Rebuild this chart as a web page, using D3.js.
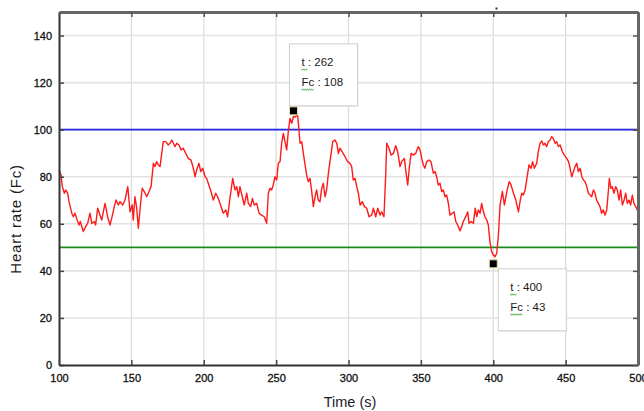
<!DOCTYPE html>
<html><head><meta charset="utf-8">
<script src="https://cdn.jsdelivr.net/npm/d3@7"></script>
<style>
html,body{margin:0;padding:0;background:#fff;}
svg{display:block;}
</style></head>
<body>
<svg id="chart" width="644" height="411"></svg>
<script>
const times = [100,101.4,102.3,103.7,104.6,106,106.9,108.8,109.9,111,112.2,113.8,114.7,116.8,118.4,119.8,121.4,122.6,124.4,125.3,126.7,128.3,129.5,131.8,133.6,135.2,136.4,138.2,139.4,141,142.1,144,145.6,147.5,149.1,150.6,151.3,152.5,153.7,154.8,156.6,157.5,158.9,160.6,162.2,163.6,165.2,166.3,167.5,168.6,169.8,172,173.7,175.5,176.7,177.9,179,180.1,181.3,182.9,184.3,185.9,187.5,189.3,191.2,192.8,194,195.1,196.7,197.9,199.3,200.9,202,203.1,205,206.6,208.3,209.6,211.2,213.5,215.2,216.5,218.1,220,221.6,222.8,223.9,225,226.6,228,229.7,230.8,232.4,233.6,234.9,236.6,238.2,240,241.8,243.5,244.6,245.8,246.9,248,249.2,250.4,251.5,252.7,253.8,255,256.1,257.3,258.4,259.6,260.8,261.9,263.5,264.7,265.8,266.5,267.7,268.8,270,271.1,272.2,273.4,274.6,275.7,276.9,278,279.1,280.3,281.5,282.6,283.8,284.9,286.1,288,289.1,290.7,291.9,293,294.1,295.7,297.6,299.4,301,302.2,303.3,304.5,305.7,306.8,308,309.6,311,312.6,314.2,316,317.2,318.8,320.2,321.8,322.9,324.5,325.7,326.4,328,329.4,331,332.6,334,335.6,336.7,338.6,339.5,340.9,342,343.2,344.8,346.4,348.2,349.4,350.6,351.7,352.8,354,355.6,357,358.6,359.8,360.9,362,363.2,364.4,365.5,366.7,367.8,369,370.1,371.7,372.9,374.1,375.4,377,378.2,379.3,380.5,382.4,383.3,384.7,386.3,387.5,388.6,389.7,390.9,392,393.2,394.3,395.5,396.6,397.8,398.9,400.1,401.2,402.4,403.5,404.7,406.3,407.7,409.4,411,412.3,414,415.6,417.4,418.5,419.7,420.8,422,423.1,424.7,426.1,427.2,428.4,430,431.1,432.3,433.5,434.6,435.7,436.9,438,439.2,440.3,441.5,442.7,443.8,445,446.2,447.8,449.1,450.8,452,453.1,454.2,455.4,456.5,457.7,458.8,460,461.2,462.3,463.4,464.6,465.7,466.9,468,469.2,470.3,471.4,472.6,473.7,474.9,476,477.2,478.4,479.5,480.2,481.3,482.2,483.4,484.6,485.7,486.9,488,489.2,490.4,491.5,492.6,493.8,494.9,496.1,497.2,498.4,499.5,500];
const heartRate = [83,80.7,75.8,73,74.4,73,69.4,64.5,63,64.5,62.3,59.5,61,56.7,58.8,60.2,64.5,60.2,61,59.5,66.6,63.7,61.6,68.7,63,59.5,62.3,67.3,70.1,68,69.4,68,70.1,75.8,65.1,68,61.6,71.5,66.6,58.1,70.1,75.1,73.7,71.5,73.7,75.8,85.7,84.3,86.4,85,84.3,94.9,94.9,93.5,94.2,95.6,94.2,92.8,94.2,93.5,91.4,92.1,90,87.8,87.1,83.6,80,82.9,85.7,82.2,83.6,80,79.3,77.2,73.7,70.1,73,71.5,68.7,64.5,65.9,63,70.8,79.3,74.4,75.8,71.5,75.8,71.5,68,73,68.7,67.3,70.8,68,68.7,64.5,63.7,63,60.2,73,75.1,74.4,76.5,80,78.6,85.7,86.4,94.2,98.4,94.9,91.4,99.1,104.8,102.7,105.5,105.5,106.9,99.9,94.2,94.9,89.9,85,80.7,77.9,79.3,73.7,67.3,71.5,74.4,70.1,69.4,75.1,77.2,71.5,74.4,81.5,89.9,94.9,95.6,94.2,89.9,92.1,90.6,88.5,86.4,85.7,84.3,78.6,79.3,75.8,73,68,69.4,67.3,66.6,63,63.7,66.6,63,66.6,63.7,65.1,63,80.7,94.2,92.1,89.2,89.9,93.2,90.6,84.3,86.4,87.8,82.9,76.5,83.6,89.9,89.2,89.9,92.8,91.4,87.8,85,83.6,86.4,87.1,86.4,81.5,82.2,80,76.5,77.2,73.7,74.4,71.5,72.2,68.7,63.7,64.5,65.1,61,59.5,57,58.8,61,62.3,65.1,60.2,61,60.2,66.6,63,65.9,64.5,68.7,65.1,63,61.6,59.5,52,48.2,46.7,46,47.5,54.5,68,73.7,68,73.7,77.9,76.5,73,70.1,65.1,69.4,73,72.2,74.4,78.6,85,83.6,86.4,83.6,85.7,90.6,94.2,95.2,93.5,94.2,92.8,94.9,95.6,97,96.3,94.2,94.9,92.8,93.5,90.6,89.2,87.8,86.4,83.6,80,82.2,84.3,85.7,82.2,83.6,80,78.6,77.9,75.8,73,72.2,71.5,74.4,73,70.1,68.7,67.3,64.5,65.9,63.7,65.9,73.7,79.3,75.1,75.8,73,75.8,74.4,70.1,74.4,68,70.1,73,68.7,70.1,68,72.2,68.7,67.3,65.9,64.5];
const xTicks = [100,150,200,250,300,350,400,450,500];
const yTicks = [0,20,40,60,80,100,120,140];
const upperLimit = [100];
const lowerLimit = [50];
const annotT = [262, 400];
const annotFc = [108, 43];

const svg = d3.select("#chart");
const W = 644, H = 411;
const m = {left:59, top:12, right:6, bottom:46};
const x = d3.scaleLinear().domain([100,500]).range([m.left, W - m.right]);
const y = d3.scaleLinear().domain([0,150]).range([H - m.bottom, m.top]);
const font = "'Liberation Sans', Arial, sans-serif";

// grid
const grid = svg.append("g");
grid.selectAll("line.vx").data(xTicks.slice(1,-1)).join("line")
  .attr("x1", d=>x(d)).attr("x2", d=>x(d)).attr("y1", y(0)).attr("y2", y(150))
  .attr("stroke", "#dcdcdc").attr("stroke-width", 1.2);
grid.selectAll("line.hy").data(yTicks.slice(1)).join("line")
  .attr("y1", d=>y(d)).attr("y2", d=>y(d)).attr("x1", x(100)).attr("x2", x(500))
  .attr("stroke", "#e2e2e2").attr("stroke-width", 1.6);

// threshold lines
svg.selectAll("line.up").data(upperLimit).join("line")
  .attr("x1", x(100)).attr("x2", x(500)).attr("y1", d=>y(d)).attr("y2", d=>y(d))
  .attr("stroke", "#2626e6").attr("stroke-width", 1.6);
svg.selectAll("line.lo").data(lowerLimit).join("line")
  .attr("x1", x(100)).attr("x2", x(500)).attr("y1", d=>y(d)).attr("y2", d=>y(d))
  .attr("stroke", "#1d8a1d").attr("stroke-width", 1.6);

// series
const pts = times.map((t,i)=>[t, heartRate[i]]);
svg.append("path").datum(pts)
  .attr("fill","none").attr("stroke","#ff1a1a").attr("stroke-width",1.4)
  .attr("stroke-linejoin","round")
  .attr("d", d3.line().x(d=>x(d[0])).y(d=>y(d[1])));

// axes
const axL = svg.append("g").attr("transform",`translate(${m.left},0)`)
  .call(d3.axisLeft(y).tickValues(yTicks).tickSizeInner(-5).tickSizeOuter(0).tickPadding(7));
const axB = svg.append("g").attr("transform",`translate(0,${H-m.bottom})`)
  .call(d3.axisBottom(x).tickValues(xTicks).tickSizeInner(-5).tickSizeOuter(0).tickPadding(7));
const axT = svg.append("g").attr("transform",`translate(0,${m.top})`)
  .call(d3.axisTop(x).tickValues(xTicks).tickSizeInner(-5).tickSizeOuter(0).tickFormat(""));
const axR = svg.append("g").attr("transform",`translate(${W-m.right},0)`)
  .call(d3.axisRight(y).tickValues(yTicks).tickSizeInner(-5).tickSizeOuter(0).tickFormat(""));
[axL,axB].forEach(a=>{
  a.select(".domain").attr("stroke","#333").attr("stroke-width",2);
  a.selectAll(".tick line").attr("stroke","#444").attr("stroke-width",1.5);
  a.selectAll("text").attr("font-family",font).attr("font-size",11).attr("fill","#111")
    .attr("stroke","#111").attr("stroke-width",0.3);
});
[axT,axR].forEach(a=>{
  a.select(".domain").attr("stroke","#666").attr("stroke-width",3);
  a.selectAll(".tick line").attr("stroke","#555").attr("stroke-width",1.5);
});
axB.selectAll("text").attr("dy","0.9em");

// titles
svg.append("text").attr("transform",`translate(21,219) rotate(-90)`)
  .attr("text-anchor","middle").attr("font-family",font).attr("font-size",15)
  .attr("letter-spacing",0.8)
  .attr("fill","#1a1a1a").text("Heart rate (Fc)");
svg.append("text").attr("x",350).attr("y",407).attr("text-anchor","middle")
  .attr("font-family",font).attr("font-size",14.5).attr("fill","#1a1a2a").text("Time (s)");

// small artifact dot on top
svg.append("rect").attr("x",495.5).attr("y",7.5).attr("width",2).attr("height",2).attr("fill","#333");

// annotations
const boxes = [
  {dx:-4, dy:-67, w:68, h:62},
  {dx:5, dy:5, w:68, h:62}
];
annotT.forEach((t,i)=>{
  const cx = x(t), cy = y(annotFc[i]);
  const b = boxes[i];
  const bx = cx + b.dx, by = cy + b.dy;
  const g = svg.append("g");
  g.append("rect").attr("x",bx+1).attr("y",by+1).attr("width",b.w).attr("height",b.h)
    .attr("fill","#eaeaea");
  g.append("rect").attr("x",bx).attr("y",by).attr("width",b.w).attr("height",b.h)
    .attr("fill","#fff").attr("stroke","#cfcfcf").attr("stroke-width",1);
  const lines = [["t", " : " + t], ["Fc", " : " + annotFc[i]]];
  lines.forEach((ln,j)=>{
    const tx = bx + 12, ty = by + 22 + j*20;
    const txt = g.append("text").attr("x",tx).attr("y",ty)
      .attr("font-family",font).attr("font-size",11.5).attr("fill","#1a1a1a");
    txt.append("tspan").text(ln[0]);
    txt.append("tspan").text(ln[1]);
    const wlen = ln[0].length === 1 ? 5 : 11;
    let dpath = `M${tx},${ty+3}`;
    for (let k=0;k<wlen;k+=2) dpath += ` l1,1.5 l1,-1.5`;
    g.append("path").attr("d",dpath).attr("fill","none").attr("stroke","#3aa63a").attr("stroke-width",0.8);
  });
  svg.append("rect").attr("x",cx-4).attr("y",cy-4).attr("width",8).attr("height",8)
    .attr("fill","#000").attr("stroke","#e8e0b0").attr("stroke-width",1);
});
</script>
</body></html>
